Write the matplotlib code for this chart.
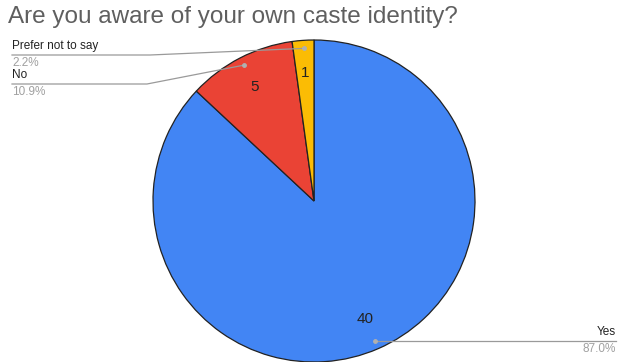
import numpy as np
import matplotlib.pyplot as plt

plt.rcParams['font.family'] = ['Liberation Sans', 'DejaVu Sans']

categorias = ['Yes', 'No', 'Prefer not to say']
respostas = [40, 5, 1]
cores = ['#4285F4', '#EA4335', '#FBBC04']

W, H = 619, 362
cx, cy, raio = 314, 161, 161

fig = plt.figure(figsize=(W / 100, H / 100), dpi=100)
ax = fig.add_axes([0, 0, 1, 1])
ax.axis('off')

total = sum(respostas)
wedges, textos = ax.pie(
    respostas, colors=cores, startangle=90, counterclock=False,
    center=(cx, cy), radius=raio, labels=[str(v) for v in respostas],
    labeldistance=0.8, wedgeprops=dict(edgecolor='#222222', linewidth=0.9),
    textprops=dict(fontsize=11, color='#222222', ha='center', va='center'),
)
ax.set_xlim(0, W)
ax.set_ylim(0, H)
ax.set_aspect('equal')

fig.text(8 / W, 1 - 17 / H, 'Are you aware of your own caste identity?',
         fontsize=17.5, color='#5f5f5f', va='center', ha='left')


def ponto(w, frac=0.95):
    ang = np.deg2rad((w.theta1 + w.theta2) / 2)
    return cx + frac * raio * np.cos(ang), cy + frac * raio * np.sin(ang)


# (cotovelo x, linha y, fim x, alinhamento do texto) em pixels
legendas = {
    'Yes': (None, 341, 616, 'right'),
    'No': (147, 84, 12, 'left'),
    'Prefer not to say': (150, 55, 12, 'left'),
}

for w, nome, v in zip(wedges, categorias, respostas):
    px, py = ponto(w)
    cotovelo, ly, fim, al = legendas[nome]
    ly = H - ly
    if cotovelo is None:
        xs, ys = [px, fim], [ly, ly]
    else:
        xs, ys = [px, cotovelo, fim], [py, ly, ly]
    ax.plot(xs, ys, color='#9a9a9a', linewidth=0.9, zorder=1)
    ax.plot(px, py, 'o', color='#b0b0b0', markersize=2.5, zorder=3)
    ax.text(fim, ly + 3, nome, fontsize=8.5, color='#222222', ha=al, va='bottom')
    ax.text(fim, ly - 2, f'{100 * v / total:.1f}%', fontsize=8.5,
            color='#a0a0a0', ha=al, va='top')

fig.savefig('out.png', dpi=100)
